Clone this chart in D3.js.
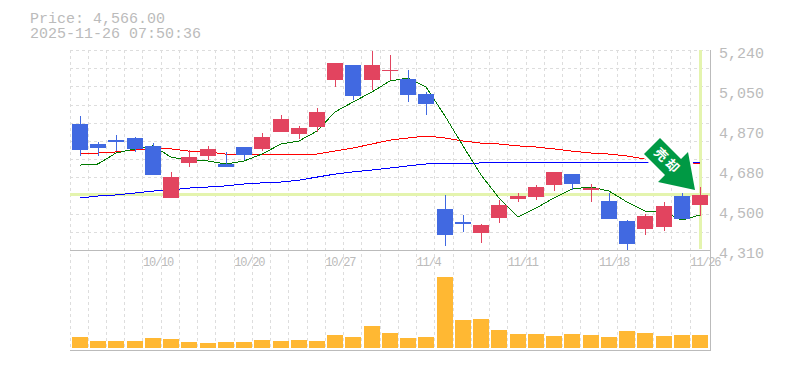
<!DOCTYPE html>
<html>

<head>
    <meta charset="utf-8">
    <title>Price chart</title>
    <script src="https://d3js.org/d3.v7.min.js"></script>
    <style>
        body {
            margin: 0;
            padding: 0;
            background: #fff;
        }

        svg {
            display: block;
        }

        text {
            font-family: "Liberation Mono", monospace;
            fill: #bbb;
        }
    </style>
</head>

<body>
    <div id="chart"></div>
    <script>
        const headerLines = ['Price: 4,566.00', '2025-11-26 07:50:36'];
        const currentPrice = 4566;

        const dateLabels = ['10/10', '10/20', '10/27', '11/4', '11/11', '11/18', '11/26'];
        const dateLabelIndex = [4, 9, 14, 19, 24, 29, 34];
        const priceTicks = [5240, 5054, 4868, 4682, 4496, 4310];

        const opens = [4896, 4803, 4821, 4831, 4794, 4552, 4715, 4747, 4710, 4789, 4780, 4859, 4849, 4882, 5100, 5170, 5100, 5142, 5105, 5035, 4501, 4440, 4389, 4459, 4547, 4556, 4612, 4663, 4589, 4538, 4445, 4408, 4417, 4561, 4519];
        const highs = [4933, 4812, 4845, 4835, 4807, 4673, 4775, 4794, 4766, 4789, 4854, 4938, 4887, 4970, 5180, 5170, 5235, 5217, 5147, 5045, 4566, 4473, 4431, 4542, 4575, 4612, 4673, 4663, 4617, 4575, 4449, 4477, 4533, 4575, 4603];
        const lows = [4747, 4747, 4770, 4766, 4659, 4552, 4696, 4728, 4696, 4728, 4770, 4859, 4826, 4859, 5068, 5007, 5054, 5100, 4998, 4938, 4329, 4394, 4343, 4436, 4533, 4542, 4584, 4589, 4533, 4454, 4310, 4380, 4398, 4454, 4468];
        const closes = [4775, 4784, 4812, 4780, 4659, 4649, 4742, 4780, 4696, 4752, 4835, 4919, 4877, 4952, 5180, 5026, 5170, 5147, 5031, 4989, 4380, 4431, 4426, 4519, 4561, 4603, 4673, 4617, 4598, 4454, 4338, 4468, 4515, 4454, 4566];

        const ma5 = [4705, 4710, 4761, 4780, 4794, 4742, 4728, 4724, 4710, 4724, 4756, 4803, 4817, 4863, 4952, 4998, 5045, 5096, 5110, 5068, 4933, 4794, 4659, 4552, 4463, 4505, 4552, 4594, 4603, 4584, 4533, 4491, 4487, 4449, 4473];
        const ma25 = [4756, 4761, 4766, 4775, 4780, 4780, 4770, 4766, 4756, 4756, 4756, 4756, 4756, 4756, 4770, 4784, 4803, 4821, 4831, 4840, 4831, 4817, 4807, 4803, 4794, 4789, 4780, 4770, 4761, 4756, 4747, 4733, 4724, 4715, 4710];
        const ma75 = [4552, 4561, 4566, 4575, 4584, 4589, 4598, 4603, 4608, 4617, 4622, 4626, 4635, 4649, 4663, 4673, 4682, 4691, 4701, 4710, 4710, 4710, 4715, 4715, 4715, 4715, 4715, 4715, 4715, 4715, 4715, 4715, 4715, 4715, 4715];

        const volumes = [11, 7, 7, 7, 10, 9, 6, 5, 6, 6, 8, 7, 8, 7, 13, 11, 22, 15, 10, 11, 71, 28, 29, 18, 14, 14, 12, 14, 13, 11, 17, 15, 12, 13, 13];

        const width = 785;
        const height = 370;
        const plotLeft = 70;
        const plotRight = 710;
        const plotTop = 50;
        const plotMid = 250;
        const plotBottom = 350;
        const hGridCount = 11;

        const indexes = d3.range(opens.length);

        const x = d3.scaleBand().domain(indexes).range([plotLeft, plotLeft + 18.24 * opens.length]);
        const y = d3.scaleLinear().domain([4310, 5240]).range([plotMid, plotTop]);
        const yVol = d3.scaleLinear().domain([0, d3.max(volumes)]).range([348, 277]);

        const candleLeft = (i) => Math.round(x(i) + 1.9);
        const center = (i) => candleLeft(i) + 8;

        const svg = d3.select('#chart').append('svg')
            .attr('width', width)
            .attr('height', height);

        // dashed grid, vertical lines run down through the volume area
        const grid = svg.append('g')
            .attr('stroke', '#ddd')
            .attr('stroke-dasharray', '3 3')
            .attr('shape-rendering', 'crispEdges');

        grid.selectAll('.v')
            .data(indexes)
            .enter()
            .append('line')
            .attr('x1', (i) => Math.floor(x(i)) + 0.5)
            .attr('x2', (i) => Math.floor(x(i)) + 0.5)
            .attr('y1', plotTop)
            .attr('y2', plotBottom);

        grid.selectAll('.h')
            .data(d3.range(hGridCount))
            .enter()
            .append('line')
            .attr('x1', plotLeft)
            .attr('x2', plotRight)
            .attr('y1', (i) => Math.round(plotTop + i * (plotMid - plotTop) / hGridCount) + 0.5)
            .attr('y2', (i) => Math.round(plotTop + i * (plotMid - plotTop) / hGridCount) + 0.5);

        // current price marker
        svg.append('rect')
            .attr('x', plotLeft)
            .attr('y', Math.round(y(currentPrice)) - 2)
            .attr('width', plotRight - plotLeft)
            .attr('height', 3)
            .attr('fill', '#e4f4ae');

        svg.append('rect')
            .attr('x', center(indexes.length - 1) - 1)
            .attr('y', plotTop)
            .attr('width', 3)
            .attr('height', plotMid - plotTop - 1)
            .attr('fill', '#e4f4ae');

        // frame
        const frame = svg.append('g')
            .attr('stroke', '#bbb')
            .attr('shape-rendering', 'crispEdges');

        frame.append('line').attr('x1', plotLeft).attr('x2', plotRight + 1).attr('y1', plotMid + 0.5).attr('y2', plotMid + 0.5);
        frame.append('line').attr('x1', plotLeft).attr('x2', plotRight + 1).attr('y1', plotBottom + 0.5).attr('y2', plotBottom + 0.5);
        frame.append('line').attr('x1', plotRight + 0.5).attr('x2', plotRight + 0.5).attr('y1', plotTop).attr('y2', plotBottom);

        // volume
        svg.append('g')
            .selectAll('rect')
            .data(indexes)
            .enter()
            .append('rect')
            .attr('x', (i) => candleLeft(i))
            .attr('y', (i) => yVol(volumes[i]))
            .attr('width', 16)
            .attr('height', (i) => yVol(0) - yVol(volumes[i]))
            .attr('fill', '#ffb833');

        // moving averages
        const maLine = d3.line()
            .x((d, i) => center(i))
            .y((d) => y(d));

        const maSeries = [
            { values: ma75, color: '#0000ff' },
            { values: ma25, color: '#ff0000' },
            { values: ma5, color: '#007a00' }
        ];

        svg.append('g')
            .selectAll('path')
            .data(maSeries)
            .enter()
            .append('path')
            .attr('d', (d) => maLine(d.values))
            .attr('fill', 'none')
            .attr('stroke', (d) => d.color)
            .attr('stroke-width', 1)
            .attr('shape-rendering', 'crispEdges');

        // candles
        const candleColor = (i) => closes[i] >= opens[i] ? '#e2445f' : '#4169e1';

        const candles = svg.append('g').attr('shape-rendering', 'crispEdges');

        candles.selectAll('.wick')
            .data(indexes)
            .enter()
            .append('line')
            .attr('x1', (i) => center(i) + 0.5)
            .attr('x2', (i) => center(i) + 0.5)
            .attr('y1', (i) => Math.round(y(highs[i])))
            .attr('y2', (i) => Math.round(y(lows[i])))
            .attr('stroke', candleColor);

        candles.selectAll('.body')
            .data(indexes)
            .enter()
            .append('rect')
            .attr('x', (i) => candleLeft(i))
            .attr('y', (i) => Math.round(y(Math.max(opens[i], closes[i]))))
            .attr('width', 16)
            .attr('height', (i) => Math.max(1, Math.round(y(Math.min(opens[i], closes[i]))) - Math.round(y(Math.max(opens[i], closes[i])))))
            .attr('fill', candleColor);

        // signal arrow, placed relative to the last candle
        const last = indexes.length - 1;
        const arrow = svg.append('g')
            .attr('transform', `translate(${center(last) - 5},${Math.round(y(highs[last])) + 3})`);

        arrow.append('path')
            .attr('d', 'M-35,-52 L-51,-36 L-30,-15 L-37,-8 L0,0 L-7,-38 L-14,-31 Z')
            .attr('fill', '#009944')
            .attr('stroke', '#fff')
            .attr('stroke-width', 6)
            .attr('stroke-linejoin', 'round')
            .attr('paint-order', 'stroke');

        arrow.append('text')
            .attr('transform', 'translate(-27,-29) rotate(45)')
            .attr('text-anchor', 'middle')
            .attr('y', 5)
            .style('font-family', '"Noto Sans CJK JP"')
            .style('font-size', '13px')
            .style('font-weight', 'bold')
            .style('letter-spacing', '3px')
            .style('fill', '#fff')
            .text('売却');

        // text
        svg.append('g')
            .selectAll('text')
            .data(headerLines)
            .enter()
            .append('text')
            .attr('x', 30)
            .attr('y', (d, i) => 23 + i * 15)
            .style('font-size', '15px')
            .text((d) => d);

        const yAxis = d3.axisRight(y)
            .tickValues(priceTicks)
            .tickSize(0)
            .tickPadding(0)
            .tickFormat((d) => d3.format(',')(Math.round(d / 10) * 10));

        const yAxisG = svg.append('g')
            .attr('transform', 'translate(719,3)')
            .call(yAxis);
        yAxisG.select('.domain').remove();
        yAxisG.selectAll('text')
            .attr('font-family', null)
            .style('font-size', '15px');

        svg.append('g')
            .selectAll('text')
            .data(dateLabels)
            .enter()
            .append('text')
            .attr('x', (d, i) => x(dateLabelIndex[i]))
            .attr('y', 266)
            .style('font-size', '12px')
            .style('letter-spacing', '-1.2px')
            .text((d) => d);
    </script>
</body>

</html>
